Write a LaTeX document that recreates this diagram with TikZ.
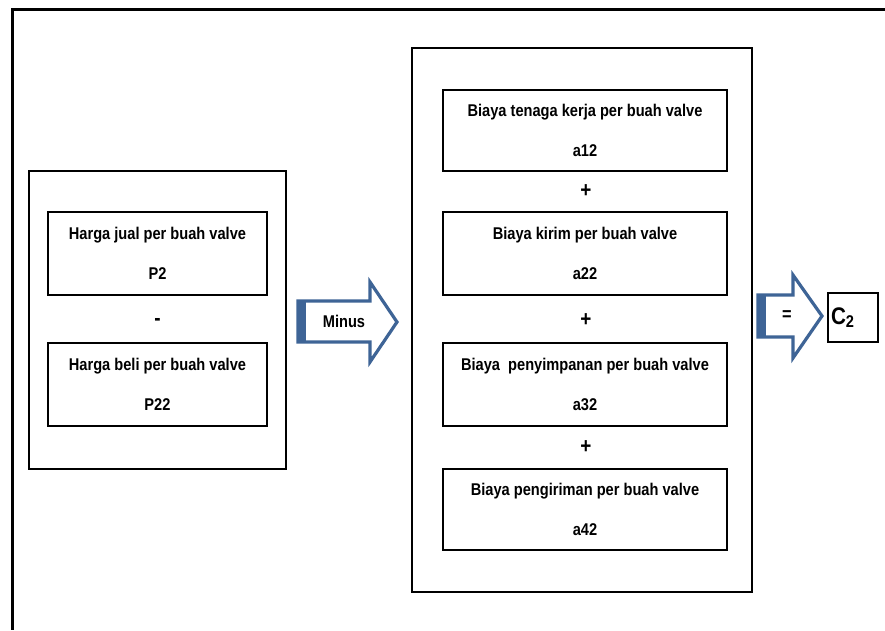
\documentclass[tikz,border=0pt]{standalone}
\usepackage{fontspec}
\setmainfont{Liberation Sans}[FakeStretch=0.86]
\definecolor{arrowblue}{RGB}{62,100,150}
\begin{document}
\begin{tikzpicture}[x=1pt,y=-1pt,
  panel/.style={draw,line width=2.6pt,inner sep=0pt},
  itembox/.style={draw,line width=2.6pt,inner sep=0pt,align=center,
    font=\fontsize{17}{40}\selectfont\bfseries},
  sign/.style={font=\fontsize{22}{22}\selectfont\bfseries},
  blockarrow/.style={draw=arrowblue,line width=3.2pt,fill=white,line join=miter}]
\useasboundingbox (0,0) rectangle (885,630);
% outer frame (only top and left edge visible)
\draw[line width=3pt] (885,9) -- (12,9) -- (12,630);
% left panel: selling price minus buying price
\node[panel,minimum width=257pt,minimum height=298pt] (left) at (157.5,320) {};
\node[itembox,minimum width=219pt,minimum height=83pt] (p2) at (157.5,253.5)
  {Harga jual per buah valve\\P2};
\node[sign] (sub) at (157.5,322) {-};
\node[itembox,minimum width=219pt,minimum height=83pt] (p22) at (157.5,384.5)
  {Harga beli per buah valve\\P22};
% arrow "Minus"
\draw[blockarrow] (298,301) -- (370,301) -- (370,282) -- (397,322) -- (370,362)
  -- (370,342) -- (298,342) -- cycle;
\fill[arrowblue] (298,301) rectangle (306,342);
\node[font=\fontsize{17}{17}\selectfont\bfseries] (minus) at (344,321) {Minus};
% middle panel: cost per valve
\node[panel,minimum width=340pt,minimum height=544pt] (mid) at (582,320) {};
\node[itembox,minimum width=284pt,minimum height=81pt] (a12) at (585,130.5)
  {Biaya tenaga kerja per buah valve\\a12};
\node[itembox,minimum width=284pt,minimum height=83pt] (a22) at (585,253.5)
  {Biaya kirim per buah valve\\a22};
\node[itembox,minimum width=284pt,minimum height=83pt] (a32) at (585,384.5)
  {Biaya\ \ penyimpanan per buah valve\\a32};
\node[itembox,minimum width=284pt,minimum height=81pt] (a42) at (585,509.5)
  {Biaya pengiriman per buah valve\\a42};
\foreach \y/\n in {191/plusa,320/plusb,447/plusc}
  \node[sign] (\n) at (586,\y) {+};
% arrow "="
\draw[blockarrow] (758,295) -- (793,295) -- (793,275) -- (822,316) -- (793,358)
  -- (793,337) -- (758,337) -- cycle;
\fill[arrowblue] (758,295) rectangle (766,337);
\node[font=\fontsize{19}{19}\selectfont\bfseries] (eq) at (787,316) {=};
% result
\node[panel,minimum width=50pt,minimum height=49pt,text width=44pt,align=left,
  font=\fontsize{24}{24}\selectfont\bfseries] (c2) at (853,317.5)
  {C\textsubscript{\fontsize{17}{17}\selectfont 2}};
\end{tikzpicture}
\end{document}
